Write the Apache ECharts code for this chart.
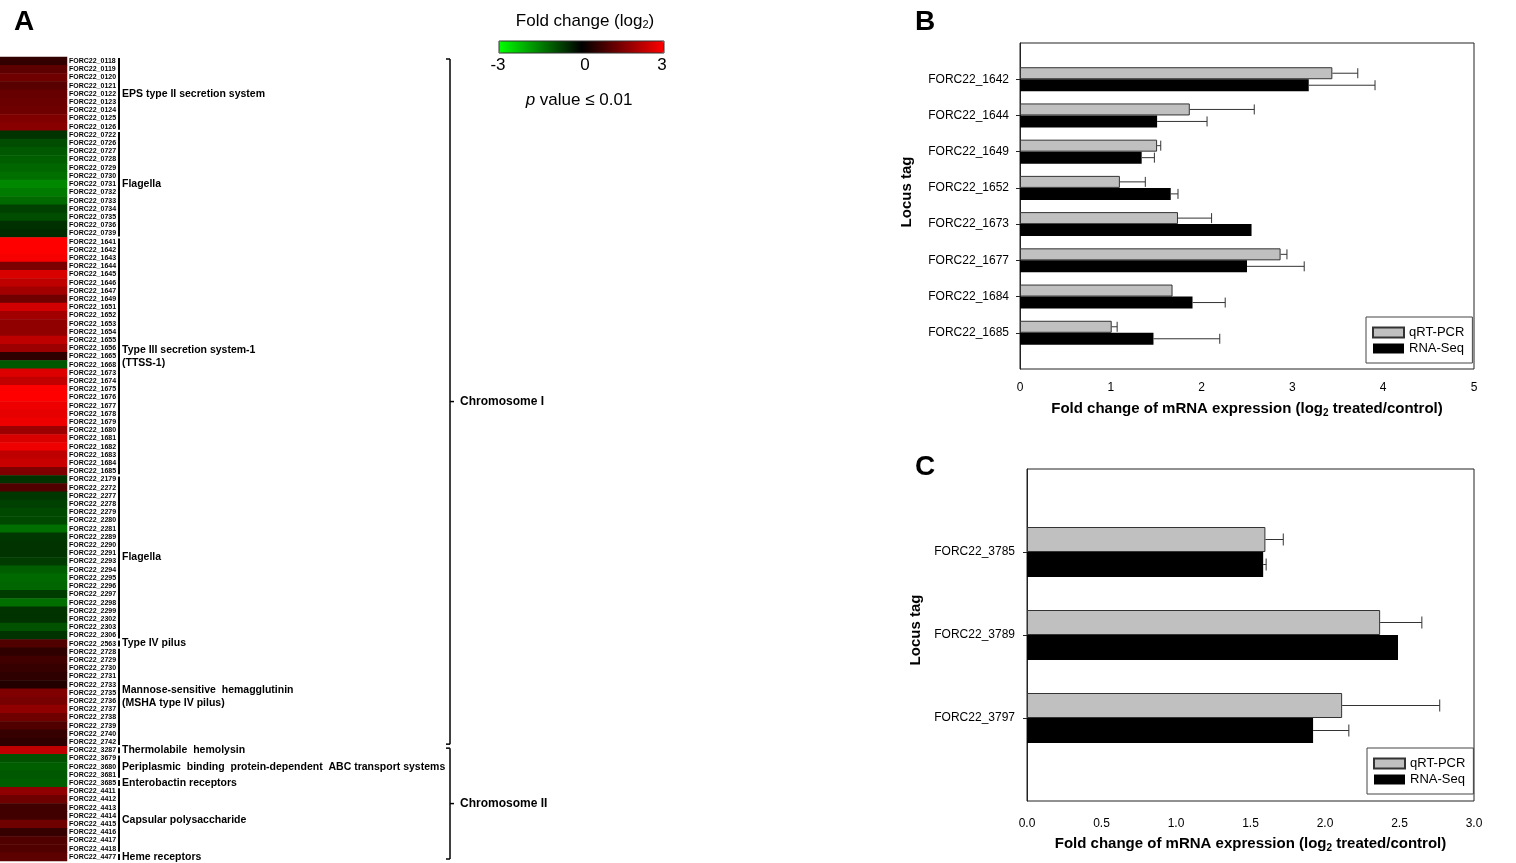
<!DOCTYPE html>
<html>
<head>
<meta charset="utf-8">
<script src="https://cdn.jsdelivr.net/npm/echarts@6/dist/echarts.min.js"></script>
<style>
html, body { margin: 0; padding: 0; background: #fff; }
#main { width: 1516px; height: 863px; }
</style>
</head>
<body>
<div id="main"></div>
<script>
// ---- panel A : heatmap ----
const heatTags = [
  '0118', '0119', '0120', '0121', '0122', '0123', '0124', '0125', '0126',
  '0722', '0726', '0727', '0728', '0729', '0730', '0731', '0732', '0733', '0734', '0735', '0736', '0739',
  '1641', '1642', '1643', '1644', '1645', '1646', '1647', '1649', '1651', '1652', '1653', '1654', '1655', '1656',
  '1665', '1668', '1673', '1674', '1675', '1676', '1677', '1678', '1679', '1680', '1681', '1682', '1683', '1684', '1685',
  '2179', '2272', '2277', '2278', '2279', '2280', '2281', '2289', '2290', '2291', '2293', '2294', '2295', '2296',
  '2297', '2298', '2299', '2302', '2303', '2306',
  '2563',
  '2728', '2729', '2730', '2731', '2733', '2735', '2736', '2737', '2738', '2739', '2740', '2742',
  '3287', '3679', '3680', '3681', '3685',
  '4411', '4412', '4413', '4414', '4415', '4416', '4417', '4418', '4477'
].map(t => 'FORC22_' + t);

const heatFold = [
  0.6, 1.1, 1.3, 1.05, 1.2, 1.25, 1.3, 1.5, 1.6,
  -0.6, -0.9, -1.05, -1.1, -1.2, -1.3, -1.6, -1.45, -1.25, -0.75, -0.9, -0.55, -0.5,
  3.0, 3.0, 2.9, 1.45, 2.55, 2.25, 1.9, 1.3, 2.45, 1.9, 1.7, 1.7, 2.25, 1.85,
  0.55, -1.05, 2.6, 2.3, 3.0, 3.0, 2.8, 2.7, 2.8, 1.85, 2.55, 2.8, 2.25, 2.35, 1.5,
  -0.6, 0.95, -0.65, -0.75, -0.85, -0.85, -1.3, -0.65, -0.6, -0.6, -0.7, -1.1, -1.25, -1.2,
  -0.7, -1.3, -0.6, -0.6, -0.95, -0.6,
  0.95,
  0.55, 0.75, 0.65, 0.55, 0.4, 1.5, 1.4, 1.7, 1.3, 0.95, 0.65, 0.55,
  2.25, -0.95, -1.1, -1.05, -1.1,
  1.7, 1.3, 0.75, 0.75, 1.3, 0.65, 0.95, 0.95, 1.1
];

// [label, first row, last row]
const geneGroups = [
  ['EPS type II secretion system', 0, 8],
  ['Flagella', 9, 21],
  ['Type III secretion system-1\n(TTSS-1)', 22, 50],
  ['Flagella', 51, 70],
  ['Type IV pilus', 71, 71],
  ['Mannose-sensitive  hemagglutinin\n(MSHA type IV pilus)', 72, 83],
  ['Thermolabile  hemolysin', 84, 84],
  ['Periplasmic  binding  protein-dependent  ABC transport systems', 85, 87],
  ['Enterobactin receptors', 88, 88],
  ['Capsular polysaccharide', 89, 96],
  ['Heme receptors', 97, 97]
];

const chromosomes = [
  ['Chromosome I', 0, 83],
  ['Chromosome II', 84, 97]
];

// ---- panel B ----
const locusB = ['FORC22_1642', 'FORC22_1644', 'FORC22_1649', 'FORC22_1652',
                'FORC22_1673', 'FORC22_1677', 'FORC22_1684', 'FORC22_1685'];
const qpcrB = [3.44, 1.87, 1.51, 1.10, 1.74, 2.87, 1.68, 1.01];
const qpcrSdB = [0.28, 0.71, 0.04, 0.28, 0.37, 0.07, 0, 0.06];
const rnaB = [3.18, 1.51, 1.34, 1.66, 2.55, 2.50, 1.90, 1.47];
const rnaSdB = [0.73, 0.55, 0.14, 0.08, 0, 0.63, 0.36, 0.73];

// ---- panel C ----
const locusC = ['FORC22_3785', 'FORC22_3789', 'FORC22_3797'];
const qpcrC = [1.60, 2.37, 2.115];
const qpcrSdC = [0.12, 0.28, 0.655];
const rnaC = [1.585, 2.49, 1.92];
const rnaSdC = [0.02, 0, 0.24];

const FONT = '"Liberation Sans", Arial, sans-serif';

let myChart = echarts.init(document.getElementById('main'));

function barSeries(name, vals, cats, idx, width, color, border) {
    return {
        name: name,
        type: 'bar',
        xAxisIndex: idx,
        yAxisIndex: idx,
        barWidth: width,
        barGap: '0%',
        data: vals.map((v, i) => [v, cats[i]]),
        itemStyle: {color: color, borderColor: border, borderWidth: border ? 1 : 0},
        emphasis: {disabled: true},
        silent: true
    };
}

function errSeries(vals, sds, cats, idx, off, cap) {
    return {
        type: 'custom',
        xAxisIndex: idx,
        yAxisIndex: idx,
        z: 3,
        silent: true,
        data: vals.map((v, i) => [v, sds[i], cats[i]]),
        encode: {x: 0, y: 2},
        renderItem: function (params, api) {
            let sd = api.value(1);
            if (!sd) return null;
            let p0 = api.coord([api.value(0), api.value(2)]);
            let p1 = api.coord([api.value(0) + sd, api.value(2)]);
            let y = p0[1] + off;
            let st = {stroke: '#333', lineWidth: 1};
            return {
                type: 'group',
                children: [
                    {type: 'line', shape: {x1: p0[0], y1: y, x2: p1[0], y2: y}, style: st},
                    {type: 'line', shape: {x1: p1[0], y1: y - cap, x2: p1[0], y2: y + cap}, style: st}
                ]
            };
        }
    };
}

const xName = 'Fold change of mRNA expression (log{s|2} treated/control)';
const nameStyle = {
    color: '#000', fontFamily: FONT, fontSize: 15, fontWeight: 'bold',
    rich: {s: {fontSize: 10, fontWeight: 'bold', fontFamily: FONT, padding: [9, 0, 0, 0]}}
};

function legendAt(left, top) {
    return {
        data: ['qRT-PCR', 'RNA-Seq'],
        orient: 'vertical',
        left: left,
        top: top,
        icon: 'rect',
        itemWidth: 31,
        itemHeight: 10,
        itemGap: 3,
        padding: [9, 8, 8, 6],
        borderColor: '#444',
        borderWidth: 1,
        selectedMode: false,
        textStyle: {color: '#000', fontSize: 13, fontFamily: FONT}
    };
}

let option = {
    animation: false,
    textStyle: {fontFamily: FONT},
    grid: [
        {left: 0, top: 57, width: 67, height: 804, outerBoundsMode: 'none'},
        {left: 1020, top: 43, width: 454, height: 326, show: true, borderColor: '#222', borderWidth: 1, backgroundColor: 'transparent', outerBoundsMode: 'none'},
        {left: 1027, top: 469, width: 447, height: 332, show: true, borderColor: '#222', borderWidth: 1, backgroundColor: 'transparent', outerBoundsMode: 'none'}
    ],
    visualMap: {
        type: 'continuous',
        seriesIndex: 0,
        min: -3,
        max: 3,
        orient: 'horizontal',
        left: 499,
        top: 41,
        itemWidth: 12,
        itemHeight: 165,
        padding: 0,
        calculable: false,
        hoverLink: false,
        inRange: {color: ['#00ff00', '#000000', '#ff0000']}
    },
    legend: [legendAt(1366, 317), legendAt(1367, 748)],
    xAxis: [
        {gridIndex: 0, type: 'category', data: ['fold'], show: false},
        {
            gridIndex: 1, type: 'value', min: 0, max: 5, interval: 1,
            axisLine: {lineStyle: {color: '#222'}},
            axisTick: {lineStyle: {color: '#222'}, length: 5},
            axisLabel: {color: '#000', fontSize: 12, margin: 13},
            splitLine: {show: false},
            name: xName, nameLocation: 'middle', nameGap: 30, nameTextStyle: nameStyle
        },
        {
            gridIndex: 2, type: 'value', min: 0, max: 3, interval: 0.5,
            axisLine: {lineStyle: {color: '#222'}},
            axisTick: {lineStyle: {color: '#222'}, length: 5},
            axisLabel: {color: '#000', fontSize: 12, margin: 17, formatter: v => v.toFixed(1)},
            splitLine: {show: false},
            name: xName, nameLocation: 'middle', nameGap: 33, nameTextStyle: nameStyle
        }
    ],
    yAxis: [
        {
            gridIndex: 0, type: 'category', data: heatTags, inverse: true, position: 'right',
            axisLine: {show: false}, axisTick: {show: false},
            axisLabel: {interval: 0, fontSize: 7, fontWeight: 'bold', color: '#000', margin: 2}
        },
        {
            gridIndex: 1, type: 'category', data: [''].concat(locusB, ['']), inverse: true, boundaryGap: false,
            axisLine: {lineStyle: {color: '#222'}},
            axisTick: {lineStyle: {color: '#222'}, length: 4, interval: (i, v) => v !== ''},
            axisLabel: {interval: 0, color: '#000', fontSize: 12, margin: 11},
            name: 'Locus tag', nameLocation: 'middle', nameGap: 106,
            nameTextStyle: {color: '#000', fontFamily: FONT, fontSize: 15, fontWeight: 'bold', padding: [0, 0, 0, 28]}
        },
        {
            gridIndex: 2, type: 'category', data: [''].concat(locusC, ['']), inverse: true, boundaryGap: false,
            axisLine: {lineStyle: {color: '#222'}},
            axisTick: {lineStyle: {color: '#222'}, length: 4, interval: (i, v) => v !== ''},
            axisLabel: {interval: 0, color: '#000', fontSize: 12, margin: 12},
            name: 'Locus tag', nameLocation: 'middle', nameGap: 104,
            nameTextStyle: {color: '#000', fontFamily: FONT, fontSize: 15, fontWeight: 'bold', padding: [0, 0, 0, 10]}
        }
    ],
    graphic: [
        {type: 'text', left: 14, top: 8, style: {text: 'A', font: 'bold 28px ' + FONT, fill: '#000'}},
        {type: 'text', left: 915, top: 8, style: {text: 'B', font: 'bold 28px ' + FONT, fill: '#000'}},
        {type: 'text', left: 915, top: 453, style: {text: 'C', font: 'bold 28px ' + FONT, fill: '#000'}},
        {
            type: 'text', x: 585, y: 21,
            style: {
                text: 'Fold change (log{s|2})', fill: '#000', font: '17px ' + FONT,
                align: 'center', verticalAlign: 'middle',
                rich: {s: {fontSize: 11, fontFamily: FONT, padding: [8, 0, 0, 0]}}
            }
        },
        {type: 'rect', shape: {x: 499, y: 41, width: 165, height: 12}, style: {fill: 'none', stroke: '#333', lineWidth: 1}, z: 10},
        {type: 'text', x: 498, y: 65, style: {text: '-3', fill: '#000', font: '17px ' + FONT, align: 'center', verticalAlign: 'middle'}},
        {type: 'text', x: 585, y: 65, style: {text: '0', fill: '#000', font: '17px ' + FONT, align: 'center', verticalAlign: 'middle'}},
        {type: 'text', x: 662, y: 65, style: {text: '3', fill: '#000', font: '17px ' + FONT, align: 'center', verticalAlign: 'middle'}},
        {
            type: 'text', x: 579, y: 100,
            style: {
                text: '{i|p} value ≤ 0.01', fill: '#000', font: '17px ' + FONT,
                align: 'center', verticalAlign: 'middle',
                rich: {i: {fontSize: 17, fontStyle: 'italic', fontFamily: FONT}}
            }
        }
    ],
    series: [
        {
            type: 'heatmap',
            xAxisIndex: 0,
            yAxisIndex: 0,
            data: heatFold.map((v, i) => [0, i, v]),
            emphasis: {disabled: true},
            silent: true
        },
        {
            // gene-group brackets and labels
            type: 'custom',
            xAxisIndex: 0,
            yAxisIndex: 0,
            silent: true,
            data: geneGroups.map(g => [0, g[1], g[2]]),
            encode: {x: 0, y: 1},
            renderItem: function (params, api) {
                let cs = params.coordSys;
                let y0 = api.coord([0, api.value(1)])[1] - 3;
                let y1 = api.coord([0, api.value(2)])[1] + 3;
                let x = cs.x + cs.width + 52;
                return {
                    type: 'group',
                    children: [
                        {type: 'line', shape: {x1: x, y1: y0, x2: x, y2: y1}, style: {stroke: '#000', lineWidth: 2}},
                        {
                            type: 'text',
                            style: {
                                text: geneGroups[params.dataIndex][0], x: x + 3, y: (y0 + y1) / 2,
                                fill: '#000', font: 'bold 10.5px ' + FONT, verticalAlign: 'middle', lineHeight: 13
                            }
                        }
                    ]
                };
            }
        },
        {
            // chromosome brackets
            type: 'custom',
            xAxisIndex: 0,
            yAxisIndex: 0,
            silent: true,
            data: chromosomes.map(c => [0, c[1], c[2]]),
            encode: {x: 0, y: 1},
            renderItem: function (params, api) {
                let cs = params.coordSys;
                let h = api.size([0, 1])[1] / 2;
                let y0 = api.coord([0, api.value(1)])[1] - h + 2;
                let y1 = api.coord([0, api.value(2)])[1] + h - 2;
                let ym = (y0 + y1) / 2;
                let x = cs.x + cs.width + 383;
                let st = {stroke: '#000', lineWidth: 1.5};
                return {
                    type: 'group',
                    children: [
                        {type: 'line', shape: {x1: x, y1: y0, x2: x, y2: y1}, style: st},
                        {type: 'line', shape: {x1: x - 4, y1: y0, x2: x, y2: y0}, style: st},
                        {type: 'line', shape: {x1: x - 4, y1: y1, x2: x, y2: y1}, style: st},
                        {type: 'line', shape: {x1: x, y1: ym, x2: x + 4, y2: ym}, style: st},
                        {
                            type: 'text',
                            style: {
                                text: chromosomes[params.dataIndex][0], x: x + 10, y: ym,
                                fill: '#000', font: 'bold 12px ' + FONT, verticalAlign: 'middle'
                            }
                        }
                    ]
                };
            }
        },
        barSeries('qRT-PCR', qpcrB, locusB, 1, 12, '#c0c0c0', '#333'),
        barSeries('RNA-Seq', rnaB, locusB, 1, 12, '#000000', null),
        errSeries(qpcrB, qpcrSdB, locusB, 1, -6, 5),
        errSeries(rnaB, rnaSdB, locusB, 1, 6, 5),
        barSeries('qRT-PCR', qpcrC, locusC, 2, 25, '#c0c0c0', '#333'),
        barSeries('RNA-Seq', rnaC, locusC, 2, 25, '#000000', null),
        errSeries(qpcrC, qpcrSdC, locusC, 2, -12.5, 6),
        errSeries(rnaC, rnaSdC, locusC, 2, 12.5, 6)
    ]
};
myChart.setOption(option);
</script>
</body>
</html>
